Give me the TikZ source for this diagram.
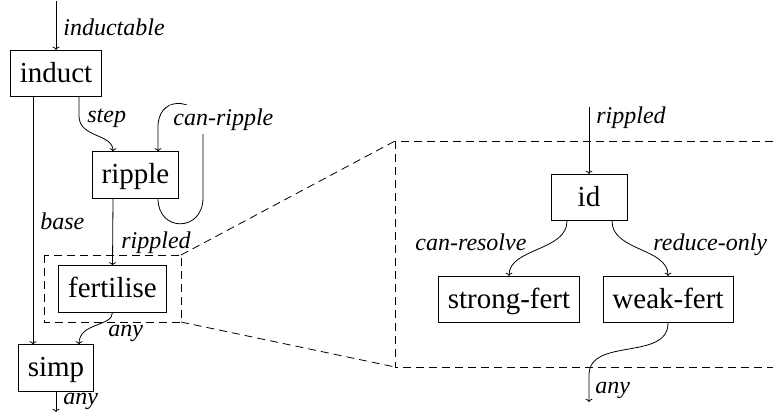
\documentclass[tikz,border=0pt]{standalone}
\usepackage{fontspec}
\setmainfont{Liberation Serif}
\usetikzlibrary{arrows.meta}
\begin{document}
\begin{tikzpicture}[x=1pt,y=-1pt, line width=0.8pt, >={To[length=3.2pt,width=7pt]},
  box/.style={draw, font=\fontsize{29}{34}\selectfont, inner xsep=9.5pt, inner ysep=9.7pt,
    minimum height=46pt, text height=22pt, text depth=5pt},
  lbl/.style={font=\fontsize{24}{28}\selectfont\itshape, inner sep=0pt, anchor=base west},
  zoomline/.style={dash pattern=on 8pt off 5pt}]
\clip (0,0) rectangle (773,413);
% boxes
\node[box] (induct) at (56,73.5) {induct};
\node[box] (ripple) at (135.5,175) {ripple};
\node[box] (fert) at (112.5,289) {fertilise};
\node[box] (simp) at (56,368) {simp};
\node[box, minimum width=76pt] (id) at (589,197.5) {id};
\node[box] (strong) at (509,299.5) {strong-fert};
\node[box] (weak) at (668,299.5) {weak-fert};
% free ends
\coordinate (in1) at (56,1);
\coordinate (out1) at (56,412);
\coordinate (in2) at (589,107);
\coordinate (bend2) at (589,375);
\coordinate (out2) at (589,402);
\coordinate (stepK) at (79,116);
\coordinate (loopA) at (203,198);
\coordinate (loopB) at (203,128);
\coordinate (loopC) at (158,125);
% left connectors
\draw[->] (in1) -- (induct.north);
\draw[->] ([xshift=-23pt]induct.south) -- ([xshift=-23pt]simp.north);
\draw[->] ([xshift=23pt]induct.south) -- (stepK) .. controls +(0,22) and +(0,-18) .. ([xshift=-22.5pt]ripple.north);
\draw[->] ([xshift=22.5pt]ripple.south) .. controls +(0,34) and +(0,34) .. (loopA) -- (loopB)
   .. controls (203,100) and (160,92) .. (loopC) -- ([xshift=22.5pt]ripple.north);
\draw[->] ([xshift=-22.5pt]ripple.south) -- (fert.north);
\draw[->] (fert.south) .. controls +(0,14) and +(0,-22) .. ([xshift=23pt]simp.north);
\draw[->] (simp.south) -- (out1);
% right connectors
\draw[->] (in2) -- (id.north);
\draw[->] ([xshift=-22pt]id.south) .. controls +(0,30) and +(0,-28) .. (strong.north);
\draw[->] ([xshift=23pt]id.south) .. controls +(0,30) and +(0,-28) .. (weak.north);
\draw[->] (weak.south) .. controls +(0,38) and +(0,-38) .. (bend2) -- (out2);
% zoom frames
\coordinate (sTL) at (44,255);
\coordinate (sBR) at (181,322);
\coordinate (sTR) at (181,255);
\coordinate (bTL) at (395,141);
\coordinate (bBL) at (395,367);
\coordinate (bBR) at (800,367);
\draw[zoomline] (sTL) rectangle (sBR);
\draw[zoomline] (bTL) rectangle (bBR);
\draw[zoomline] (sTR) -- (bTL);
\draw[zoomline] (sBR) -- (bBL);
% labels
\node[lbl] (l-inductable) at (63,35) {inductable};
\node[lbl] (l-step) at (87,122) {step};
\node[lbl, fill=white, inner sep=3.6pt] (l-canripple) at (169.4,125) {can-ripple};
\node[lbl] (l-base) at (40,229) {base};
\node[lbl] (l-rippled1) at (121,248) {rippled};
\node[lbl] (l-any1) at (108,336) {any};
\node[lbl] (l-any2) at (63,404) {any};
\node[lbl] (l-rippled2) at (596,123) {rippled};
\node[lbl] (l-canresolve) at (415,250) {can-resolve};
\node[lbl] (l-reduceonly) at (653,250) {reduce-only};
\node[lbl] (l-any3) at (595,393) {any};
\end{tikzpicture}
\end{document}
